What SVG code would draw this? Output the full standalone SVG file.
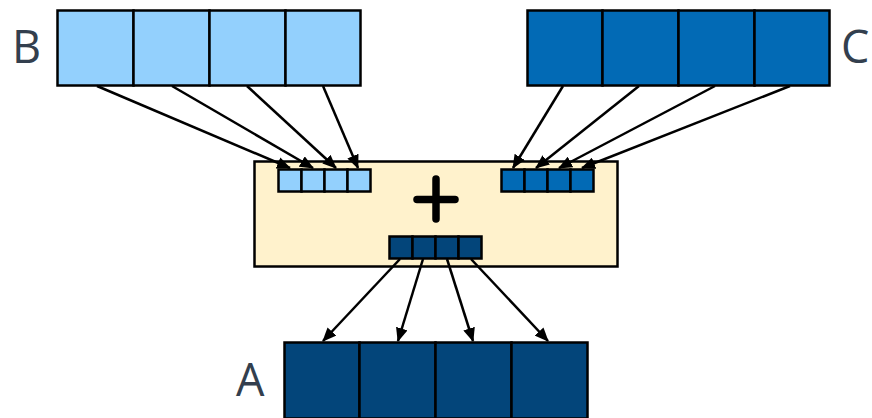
<svg xmlns="http://www.w3.org/2000/svg" width="872" height="418" viewBox="0 0 872 418">
  <style>
    .cell { stroke: #000; stroke-width: 2.5; }
    .b { fill: #93D0FD; }
    .c { fill: #026AB5; }
    .a { fill: #03457A; }
    .unit { fill: #FFF2CC; stroke: #000; stroke-width: 2.5; }
    .lbl { font-family: "Open Sans", "Liberation Sans", sans-serif; font-size: 45px; fill: #333F4E; }
    .conn line { stroke: #000; stroke-width: 2.5; marker-end: url(#arrow); }
    .plus { stroke: #000; stroke-width: 7.5; stroke-linecap: round; }
  </style>
  <defs>
    <marker id="arrow" viewBox="0 0 14 12" refX="13" refY="6" markerWidth="14" markerHeight="12" markerUnits="userSpaceOnUse" orient="auto">
      <path d="M0,0 L14,6 L0,12 Z" fill="#000"/>
    </marker>
  </defs>

  <!-- input vector B -->
  <g id="B">
    <rect class="cell b" x="57.5" y="10.5" width="76" height="75"/>
    <rect class="cell b" x="133.5" y="10.5" width="76" height="75"/>
    <rect class="cell b" x="209.5" y="10.5" width="76" height="75"/>
    <rect class="cell b" x="285.5" y="10.5" width="75" height="75"/>
    <text class="lbl" x="12" y="63">B</text>
  </g>

  <!-- input vector C -->
  <g id="C">
    <rect class="cell c" x="527.5" y="10.5" width="75" height="75"/>
    <rect class="cell c" x="602.5" y="10.5" width="76" height="75"/>
    <rect class="cell c" x="678.5" y="10.5" width="76" height="75"/>
    <rect class="cell c" x="754.5" y="10.5" width="75" height="75"/>
    <text class="lbl" x="841" y="63">C</text>
  </g>

  <!-- vector adder unit -->
  <g id="adder">
    <rect class="unit" x="254.5" y="161.5" width="363" height="105"/>
    <rect class="cell b" x="278.5" y="169.5" width="23" height="22"/>
    <rect class="cell b" x="301.5" y="169.5" width="23" height="22"/>
    <rect class="cell b" x="324.5" y="169.5" width="23" height="22"/>
    <rect class="cell b" x="347.5" y="169.5" width="23" height="22"/>
    <rect class="cell c" x="501.5" y="169.5" width="23" height="22"/>
    <rect class="cell c" x="524.5" y="169.5" width="23" height="22"/>
    <rect class="cell c" x="547.5" y="169.5" width="23" height="22"/>
    <rect class="cell c" x="570.5" y="169.5" width="23" height="22"/>
    <rect class="cell a" x="389.5" y="236.5" width="23" height="22"/>
    <rect class="cell a" x="412.5" y="236.5" width="23" height="22"/>
    <rect class="cell a" x="435.5" y="236.5" width="23" height="22"/>
    <rect class="cell a" x="458.5" y="236.5" width="23" height="22"/>
    <line class="plus" x1="417" y1="199.5" x2="455" y2="199.5"/>
    <line class="plus" x1="436" y1="179" x2="436" y2="219"/>
  </g>

  <!-- result vector A -->
  <g id="A">
    <rect class="cell a" x="284.5" y="342.5" width="75" height="76"/>
    <rect class="cell a" x="359.5" y="342.5" width="76" height="76"/>
    <rect class="cell a" x="435.5" y="342.5" width="76" height="76"/>
    <rect class="cell a" x="511.5" y="342.5" width="76" height="76"/>
    <text class="lbl" x="236" y="396">A</text>
  </g>

  <!-- element-wise data flow -->
  <g id="connectors" class="conn">
    <line x1="97" y1="86" x2="290" y2="168"/>
    <line x1="172" y1="86" x2="313" y2="168"/>
    <line x1="247" y1="86" x2="336" y2="168"/>
    <line x1="323" y1="86" x2="358" y2="168"/>
    <line x1="563" y1="86" x2="513" y2="168"/>
    <line x1="639" y1="86" x2="536" y2="168"/>
    <line x1="715" y1="86" x2="559" y2="168"/>
    <line x1="790" y1="86" x2="582" y2="168"/>
    <line x1="400" y1="259" x2="323" y2="341"/>
    <line x1="423" y1="259" x2="398" y2="341"/>
    <line x1="447" y1="259" x2="473" y2="341"/>
    <line x1="471" y1="259" x2="548" y2="341"/>
  </g>
</svg>
